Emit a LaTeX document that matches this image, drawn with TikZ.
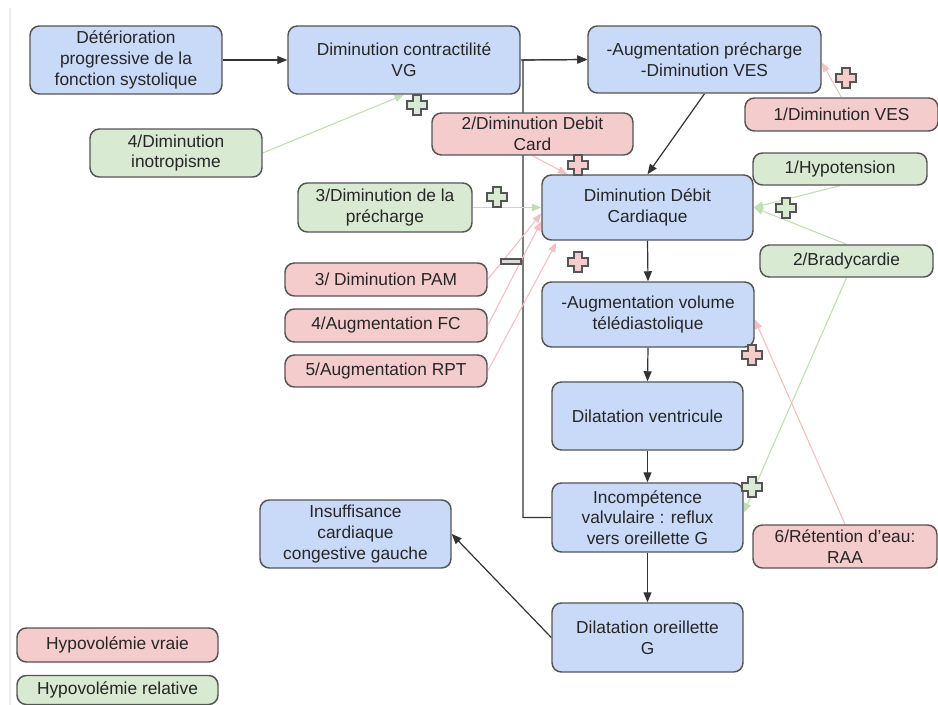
\documentclass[tikz,border=0pt]{standalone}
\usepackage{fontspec}
\setmainfont{Liberation Sans}
\usetikzlibrary{arrows.meta,calc}
\definecolor{bluef}{HTML}{C9DAF8}
\definecolor{pinkf}{HTML}{F4CCCC}
\definecolor{greenf}{HTML}{D9EAD3}
\definecolor{edgec}{HTML}{555555}
\definecolor{pinkl}{HTML}{F2C0C0}
\definecolor{greenl}{HTML}{C0DFB2}
\pgfdeclarelayer{back}
\pgfdeclarelayer{bg}
\pgfsetlayers{back,bg,main}
\tikzset{wd/.style={minimum width=#1*0.75pt}}
\tikzset{ht/.style={minimum height=#1*0.75pt}}
\tikzset{
  box/.style={draw=edgec, line width=1.1pt, rounded corners=7pt, align=center,
    inner sep=0pt, font=\fontsize{13}{15.5}\selectfont, text=black!85},
  bbox/.style={box, fill=bluef},
  pbox/.style={box, fill=pinkf},
  gbox/.style={box, fill=greenf},
  arr/.style={draw=black!80, line width=0.9pt, -{Triangle[length=7.5pt,width=6pt]}},
  parr/.style={draw=pinkl, line width=0.8pt, -{Triangle[length=7pt,width=5.5pt]}},
  garr/.style={draw=greenl, line width=0.8pt, -{Triangle[length=7pt,width=5.5pt]}},
  pplus/.style={draw=edgec, fill=pinkf, line width=0.9pt},
  gplus/.style={draw=edgec, fill=greenf, line width=0.9pt}
}
\tikzset{crosspic/.pic={\path[pic actions] (-4,-10)--(4,-10)--(4,-4)--(10,-4)--(10,4)--(4,4)--(4,10)--(-4,10)--(-4,4)--(-10,4)--(-10,-4)--(-4,-4)--cycle;}}
\begin{document}
\begin{tikzpicture}[x=0.75pt,y=-0.75pt]
\useasboundingbox (0,0) rectangle (938,705);
\begin{pgfonlayer}{back}
\fill[white] (0,0) rectangle (938,705);
\draw[black!8, line width=0.8pt] (10,8) -- (10,705);
\end{pgfonlayer}

% main chain
\node[bbox, wd=192, ht=68] (A) at (126,60) {Détérioration\\progressive de la\\fonction systolique};
\node[bbox, wd=232, ht=68] (B) at (404,60) {Diminution contractilité\\VG};
\node[bbox, wd=233, ht=67] (C) at (704.5,59.5) {-Augmentation précharge\\-Diminution VES};
\node[bbox, wd=211, ht=65] (D) at (647.5,207.5) {Diminution Débit\\Cardiaque};
\node[bbox, wd=212, ht=65] (E) at (648,314.5) {-Augmentation volume\\télédiastolique};
\node[bbox, wd=191, ht=68] (F) at (647.5,416) {Dilatation ventricule};
\node[bbox, wd=191, ht=69] (G) at (647.5,517.5) {Incompétence\\valvulaire : reflux\\vers oreillette G};
\node[bbox, wd=191, ht=69] (H) at (647.5,637.5) {Dilatation oreillette\\G};
\node[bbox, wd=191, ht=68] (I) at (355.5,534) {Insuffisance\\cardiaque\\congestive gauche};

% factors
\node[gbox, wd=172, ht=48] (inot) at (176,153) {4/Diminution\\inotropisme};
\node[pbox, wd=201, ht=42] (ddc) at (532.5,134) {2/Diminution Debit\\Card};
\node[pbox, wd=193, ht=33] (ves) at (841.5,114.5) {1/Diminution VES};
\node[gbox, wd=174, ht=49] (prech) at (385,207.5) {3/Diminution de la\\précharge};
\node[gbox, wd=174, ht=32] (hypo) at (840,169) {1/Hypotension};
\node[gbox, wd=173, ht=32] (brady) at (846.5,261) {2/Bradycardie};
\node[pbox, wd=202, ht=33] (pam) at (386,279.5) {3/ Diminution PAM};
\node[pbox, wd=202, ht=33] (fc) at (386,325.5) {4/Augmentation FC};
\node[pbox, wd=202, ht=32] (rpt) at (386,371) {5/Augmentation RPT};
\node[pbox, wd=184, ht=43] (raa) at (845,546.5) {6/Rétention d’eau:\\RAA};

% legend
\node[pbox, wd=201, ht=34] (leg1) at (117.5,645) {Hypovolémie vraie};
\node[gbox, wd=201, ht=29] (leg2) at (117.5,690) {Hypovolémie relative};

\coordinate (j) at (523,60);

\begin{pgfonlayer}{bg}
\draw[arr] (A.east) -- (B.west);
\draw[arr] (B.east) -- (C.west);
\draw[arr] (G.west) -| (j) -- (C.west);
\draw[arr] (C.south) -- (D.north);
\draw[arr] (D.south) -- (E.north);
\draw[arr] (E.south) -- (F.north);
\draw[arr] (F.south) -- (G.north);
\draw[arr] (G.south) -- (H.north);
\draw[arr] (H.west) -- (I.east);

\draw[garr] (inot.east) -- (B.south);
\draw[garr] (prech.east) -- (D.west);
\draw[parr] (ddc.south) -- ($(D.north west)+(26,0)$);
\draw[parr] (pam.east) -- ($(D.west)+(0,6)$);
\draw[parr] (fc.east) -- ($(D.west)+(0,14)$);
\draw[parr] (rpt.east) -- ($(D.south west)+(15,2)$);
\draw[parr] (ves.north) -- ($(C.east)+(0,3)$);
\draw[garr] (hypo.south) -- (D.east);
\draw[garr] (brady.north) -- (D.east);
\draw[garr] (brady.south) -- ($(G.east)+(0,-5)$);
\draw[parr] (raa.north) -- ($(E.east)+(0,5)$);
\end{pgfonlayer}

% signs
\pic[gplus] at (417,105) {crosspic};
\pic[pplus] at (846,78) {crosspic};
\pic[pplus] at (578,165) {crosspic};
\pic[gplus] at (497,197) {crosspic};
\pic[gplus] at (786,208) {crosspic};
\pic[pplus] at (578,262) {crosspic};
\pic[pplus] at (752,355) {crosspic};
\pic[gplus] at (752,487) {crosspic};
\draw[draw=edgec, fill=black!15, line width=0.9pt] (501,259) rectangle (521,264);
\end{tikzpicture}
\end{document}
